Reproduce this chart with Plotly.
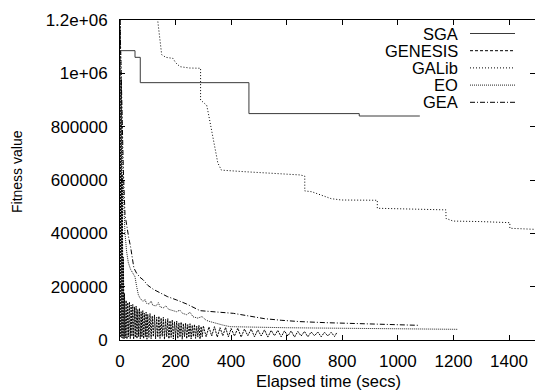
import plotly.graph_objects as go

# ---------------- data ----------------
series_names = ["SGA", "GENESIS", "GALib", "EO", "GEA"]

sga_t = [0, 54, 73, 464, 861, 1079]
sga_v = [1085e3, 1060e3, 965e3, 849e3, 840e3, 840e3]

# GENESIS: (time, fitness) samples, noisy best-of-generation values
genesis_pts = [
    (0, 1200e3), (1, 15e3), (2, 1150e3), (3, 10e3), (4, 980e3), (5, 18e3), (6, 800e3), (7, 8e3),
    (8, 620e3), (9, 12e3), (10, 440e3), (11, 6e3), (12, 310e3), (13, 14e3), (14, 230e3), (15, 5e3),
    (16, 175e3), (19, 8e3), (22, 148e3), (25, 4e3), (28, 140e3), (31, 12e3), (34, 143e3), (37, 5e3),
    (40, 131e3), (43, 14e3), (46, 133e3), (49, 3e3), (52, 124e3), (55, 10e3), (58, 127e3), (61, 6e3),
    (64, 114e3), (67, 13e3), (70, 119e3), (73, 4e3), (76, 106e3), (79, 11e3), (82, 110e3), (85, 5e3),
    (88, 100e3), (91, 12e3), (94, 104e3), (97, 3e3), (100, 96e3), (104, 10e3), (108, 99e3), (112, 5e3),
    (116, 90e3), (120, 13e3), (124, 94e3), (128, 4e3), (132, 85e3), (136, 11e3), (140, 89e3), (144, 6e3),
    (148, 82e3), (152, 14e3), (156, 85e3), (160, 3e3), (164, 77e3), (168, 12e3), (172, 80e3), (176, 5e3),
    (180, 72e3), (184, 10e3), (188, 75e3), (192, 4e3), (196, 68e3), (200, 13e3), (204, 71e3), (208, 6e3),
    (212, 64e3), (216, 11e3), (220, 67e3), (224, 3e3), (228, 61e3), (232, 12e3), (236, 63e3), (240, 5e3),
    (244, 58e3), (248, 10e3), (252, 61e3), (256, 4e3), (260, 55e3), (264, 13e3), (268, 58e3), (272, 6e3),
    (276, 52e3), (280, 11e3), (284, 55e3), (288, 4e3), (292, 50e3), (296, 12e3), (300, 53e3), (310, 12e3),
    (320, 49e3), (330, 15e3), (340, 50e3), (350, 11e3), (360, 46e3), (370, 16e3), (380, 47e3), (390, 12e3),
    (400, 43e3), (412, 15e3), (424, 44e3), (436, 11e3), (448, 41e3), (460, 16e3), (472, 41e3), (484, 12e3),
    (496, 38e3), (508, 15e3), (520, 38e3), (532, 11e3), (544, 36e3), (556, 16e3), (568, 36e3), (580, 12e3),
    (592, 34e3), (604, 15e3), (616, 34e3), (628, 11e3), (640, 32e3), (652, 15e3), (664, 32e3), (676, 12e3),
    (688, 30e3), (700, 16e3), (712, 30e3), (724, 12e3), (736, 29e3), (748, 15e3), (760, 29e3), (772, 13e3),
    (780, 27e3),
]
genesis_t = [p[0] for p in genesis_pts]
genesis_v = [p[1] for p in genesis_pts]

galib_t = [130, 137, 145, 150, 165, 191, 200, 216, 250, 290, 290, 300, 312, 318, 330, 345, 352, 365, 400, 450,
           550, 647, 665, 665, 690, 719, 760, 797, 926, 926, 1050, 1173, 1173, 1199, 1300, 1403, 1403, 1493]
galib_v = [1250e3, 1190e3, 1120e3, 1070e3, 1060e3, 1056e3, 1040e3, 1025e3, 1020e3, 1019e3, 900e3, 890e3, 880e3, 850e3, 780e3, 700e3, 664e3, 637e3, 634e3, 631e3,
           625e3, 619e3, 615e3, 559e3, 556e3, 545e3, 530e3, 525e3, 524e3, 494e3, 490e3, 488e3, 456e3, 446e3, 444e3, 440e3, 419e3, 415e3]

eo_t = [0, 3, 6, 10, 14, 18, 24, 30, 38, 46, 54, 60, 66, 72, 78, 83, 90, 95, 105, 112,
        118, 130, 138, 144, 155, 165, 175, 190, 204, 215, 225, 240, 252, 263, 280, 295, 310, 324, 345, 370,
        396, 430, 470, 520, 600, 700, 800, 900, 1000, 1100, 1216]
eo_v = [1200e3, 1000e3, 820e3, 650e3, 500e3, 400e3, 330e3, 290e3, 265e3, 250e3, 237e3, 200e3, 170e3, 157e3, 150e3, 144e3, 152e3, 138e3, 135e3, 146e3,
        130e3, 128e3, 140e3, 125e3, 120e3, 128e3, 115e3, 110e3, 106e3, 112e3, 100e3, 95e3, 104e3, 87e3, 82e3, 88e3, 74e3, 69e3, 62e3, 56e3,
        50e3, 49e3, 48e3, 47e3, 46e3, 45e3, 44e3, 43e3, 42e3, 41e3, 40e3]

gea_t = [0, 4, 8, 12, 18, 25, 32, 38, 44, 50, 60, 72, 84, 100, 120, 144, 170, 204, 240, 288,
         324, 360, 408, 460, 520, 580, 647, 740, 827, 920, 1007, 1075]
gea_v = [1200e3, 1000e3, 800e3, 640e3, 470e3, 420e3, 380e3, 350e3, 310e3, 270e3, 250e3, 235e3, 225e3, 205e3, 190e3, 176e3, 163e3, 150e3, 135e3, 110e3,
         106e3, 104e3, 100e3, 90e3, 80e3, 74e3, 69e3, 65e3, 62e3, 59e3, 56e3, 55e3]

x_ticks = [0, 200, 400, 600, 800, 1000, 1200, 1400]
y_ticks = [0, 200000, 400000, 600000, 800000, 1000000, 1200000]
y_tick_text = ["0", "200000", "400000", "600000", "800000", "1e+06", "1.2e+06"]

x_title = "Elapsed time (secs)"
y_title = "Fitness value"

# ---------------- styling ----------------
FONT = "Liberation Sans, Arial, Helvetica, sans-serif"
L, T, W, H = 120, 20, 415, 320   # plot area in pixels
styles = {
    "SGA": dict(color="#3a3a3a", width=1, dash="solid"),
    "GENESIS": dict(color="black", width=1, dash="2px,1px"),
    "GALib": dict(color="black", width=1, dash="1px,2px"),
    "EO": dict(color="#222222", width=1, dash="1px,1px"),
    "GEA": dict(color="black", width=1, dash="5px,2px,1px,2px"),
}
legend_dash = {"SGA": "solid", "GENESIS": "3px,2px", "GALib": "1px,2px",
               "EO": "1px,1px", "GEA": "5px,2px,1px,2px"}
series = {
    "SGA": (sga_t, sga_v, "hv"),
    "GENESIS": (genesis_t, genesis_v, "linear"),
    "GALib": (galib_t, galib_v, "linear"),
    "EO": (eo_t, eo_v, "linear"),
    "GEA": (gea_t, gea_v, "linear"),
}

fig = go.Figure()
for name in ["GENESIS", "EO", "GEA", "GALib", "SGA"]:
    t, v, shape = series[name]
    fig.add_trace(go.Scatter(x=t, y=v, mode="lines", name=name,
                             line=dict(shape=shape, **styles[name])))

def px_x(p):
    return (p - L) / W

def px_y(p):
    return (T + H - p) / H

shapes = []
annotations = []
legend_rows = [33.5, 50.7, 67.9, 85.1, 102.3]
for name, ry in zip(series_names, legend_rows):
    st = styles[name]
    shapes.append(dict(type="line", xref="paper", yref="paper",
                       x0=px_x(470), x1=px_x(515), y0=px_y(ry), y1=px_y(ry),
                       line=dict(color=st["color"], width=1, dash=legend_dash[name])))
    annotations.append(dict(text=name, xref="paper", yref="paper",
                            x=px_x(460), y=px_y(ry), xanchor="right", yanchor="middle",
                            showarrow=False, font=dict(family=FONT, size=16.5, color="black")))

annotations.append(dict(text=x_title, xref="paper", yref="paper",
                        x=px_x(328), y=px_y(381), xanchor="center", yanchor="middle",
                        showarrow=False, font=dict(family=FONT, size=16.5, color="black")))
annotations.append(dict(text=y_title, xref="paper", yref="paper",
                        x=px_x(17), y=px_y(172), xanchor="center", yanchor="middle",
                        textangle=-90, showarrow=False,
                        font=dict(family=FONT, size=14, color="black")))

axis_common = dict(showgrid=False, zeroline=False, showline=True, linecolor="black",
                   linewidth=1, mirror="ticks", ticks="inside", ticklen=5,
                   tickcolor="black", tickwidth=1,
                   tickfont=dict(family=FONT, size=17, color="black"))

fig.update_layout(
    width=535, height=392,
    margin=dict(l=L, r=535 - L - W, t=T, b=392 - T - H, pad=0),
    plot_bgcolor="white", paper_bgcolor="white",
    showlegend=False,
    shapes=shapes, annotations=annotations,
    xaxis=dict(range=[0, 1493.5], tickvals=x_ticks, ticklabelstandoff=6, **axis_common),
    yaxis=dict(range=[0, 1200000], tickvals=y_ticks, ticktext=y_tick_text,
               ticklabelstandoff=8, **axis_common),
)

fig.write_html("out.html")
